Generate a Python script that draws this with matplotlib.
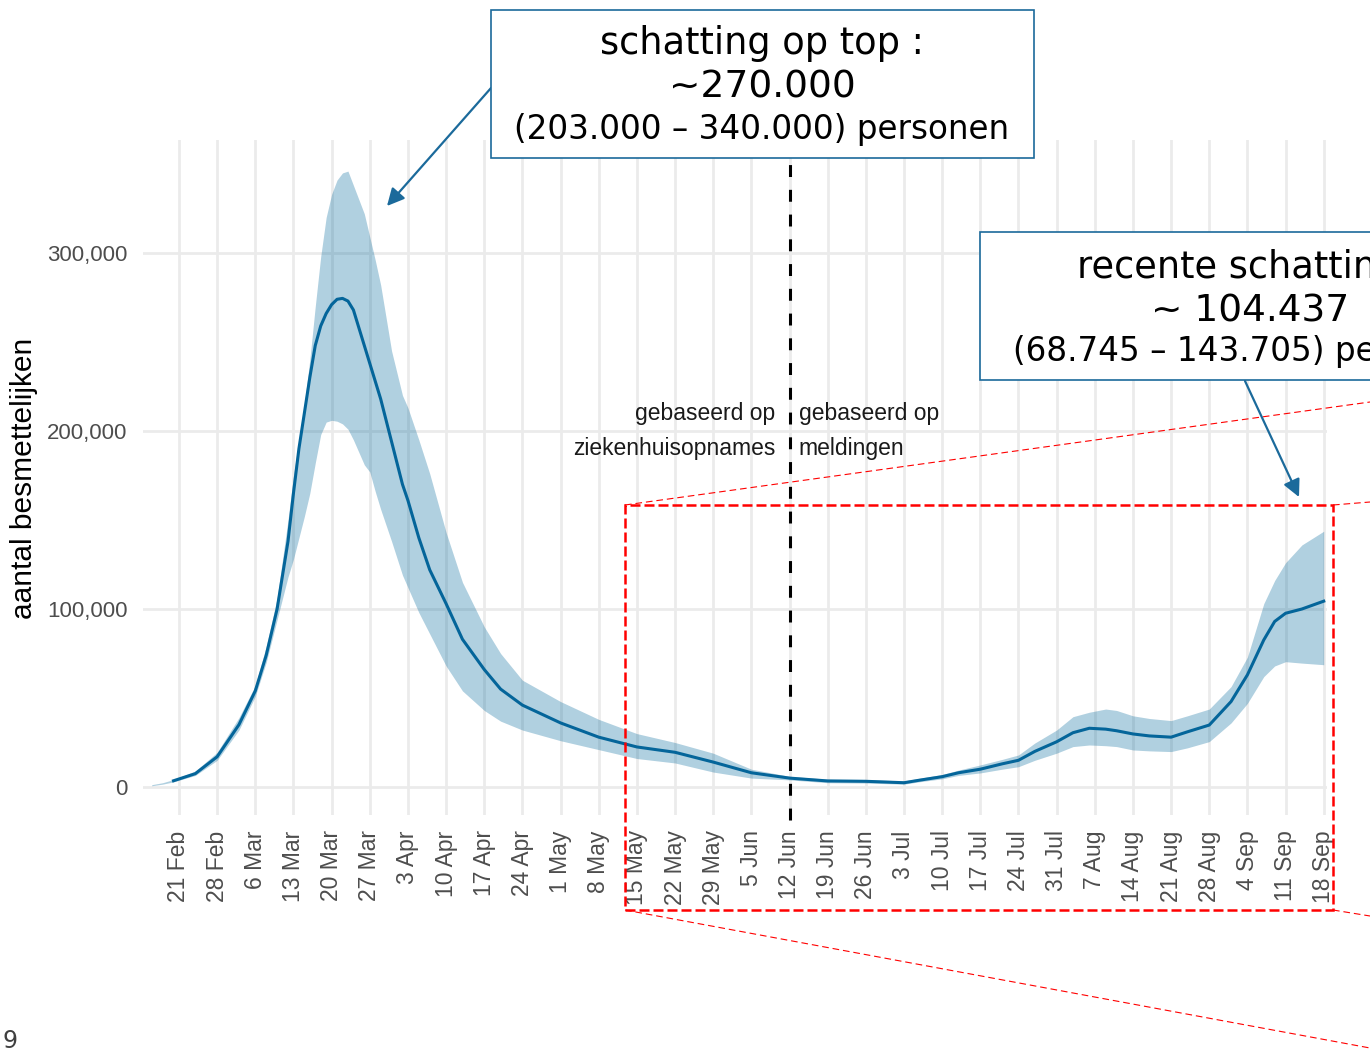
import numpy as np
import pandas as pd
import matplotlib
matplotlib.use("Agg")
import matplotlib.pyplot as plt
from matplotlib.patches import Rectangle, FancyArrowPatch
from matplotlib.lines import Line2D

plt.rcParams['font.family'] = ['Liberation Sans', 'DejaVu Sans']

W, H = 1370, 1054

# estimate of infectious people (thousands)
dates = ['16 Feb', '18 Feb', '20 Feb', '24 Feb', '28 Feb', '3 Mar', '6 Mar', '8 Mar',
         '10 Mar', '12 Mar', '13 Mar', '14 Mar', '15 Mar', '16 Mar', '17 Mar', '18 Mar',
         '19 Mar', '20 Mar', '21 Mar', '22 Mar', '23 Mar', '24 Mar', '25 Mar', '26 Mar',
         '27 Mar', '28 Mar', '29 Mar', '31 Mar', '2 Apr', '3 Apr', '5 Apr', '7 Apr',
         '10 Apr', '13 Apr', '17 Apr', '20 Apr', '24 Apr', '1 May', '8 May', '15 May',
         '22 May', '29 May', '5 Jun', '12 Jun', '19 Jun', '26 Jun', '3 Jul', '6 Jul',
         '10 Jul', '13 Jul', '17 Jul', '21 Jul', '24 Jul', '27 Jul', '31 Jul', '3 Aug',
         '6 Aug', '9 Aug', '11 Aug', '14 Aug', '17 Aug', '21 Aug', '24 Aug', '28 Aug',
         '1 Sep', '4 Sep', '7 Sep', '9 Sep', '11 Sep', '14 Sep', '18 Sep']
mid_k = [np.nan, np.nan, 3.5, 7.5, 17, 35, 54, 74,
         100, 138, 165, 190, 210, 230, 248, 259,
         266, 271, 274, 274.5, 273, 268, 258, 248,
         238, 228, 218, 194, 170, 161, 140, 122,
         103, 83, 66, 55, 46, 36, 28, 22.5,
         19.5, 14, 8, 5, 3.4, 3.2, 2.4, 3.9,
         5.8, 8, 10, 13, 15, 20, 25.4, 30.5,
         33, 32.5, 31.6, 29.8, 28.7, 28, 31, 34.8,
         48, 63, 82.6, 93, 97.6, 100, 104.4]
low_k = [0.7, 1.6, 2.9, 6.5, 15, 32, 51, 70,
         94, 118, 128, 140, 152, 165, 182, 198,
         205, 206, 205.5, 204, 201, 195, 188, 181,
         177, 166, 156, 138, 119, 112, 98, 86,
         68, 54, 43, 37, 32, 26, 21, 16,
         13.5, 8.4, 5, 4, 2.4, 2.2, 1.6, 3,
         4.6, 6.5, 7.9, 10, 11.4, 15, 19, 22.7,
         23.6, 23.2, 22.7, 20.8, 20.3, 19.9, 22, 25.5,
         36, 47, 62, 68, 70.4, 69.6, 68.7]
high_k = [1.3, 2.4, 4.2, 9, 19.5, 39, 57, 79,
          106, 150, 175, 195, 215, 240, 270, 298,
          320, 333, 341, 345, 346, 338, 330, 322,
          309, 296, 282, 245, 220, 213, 195, 176,
          143, 115, 90, 75, 60, 48, 38, 30,
          25, 19, 10, 6, 4.4, 4.2, 3.4, 5,
          7, 9.5, 12.4, 15.5, 18, 24.7, 32, 39.5,
          42, 43.8, 43, 40, 38.5, 37.3, 40, 43.8,
          56.4, 73, 103, 116, 126, 136, 143.7]

y_ticks = [0, 100000, 200000, 300000]
y_tick_labels = ['0', '100,000', '200,000', '300,000']

blue = '#04659a'
band = '#01689b'

x = pd.to_datetime([s + ' 2020' for s in dates], format='%d %b %Y')
mid = np.array(mid_k) * 1000
low = np.array(low_k) * 1000
high = np.array(high_k) * 1000


def fx(px):
    return px / W


def fy(py):
    return 1 - py / H


fig = plt.figure(figsize=(W / 100, H / 100), dpi=100)
ax = fig.add_axes([fx(143), fy(815), (1327 - 143) / W, (815 - 140) / H])

ax.fill_between(x, low, high, color=band, alpha=0.31, lw=0)
ax.plot(x, mid, color=blue, lw=2.2)

week_ticks = pd.date_range('2020-02-21', '2020-09-18', freq='7D')
ax.set_xticks(week_ticks)
ax.set_xticklabels([f"{t.day} {t.strftime('%b')}" for t in week_ticks], rotation=90)
ax.set_yticks(y_ticks)
ax.set_yticklabels(y_tick_labels)

start = pd.Timestamp('2020-02-21')
ax.set_xlim(start - pd.Timedelta(days=6.6), start + pd.Timedelta(days=210.6))
ax.set_ylim(-15730, 363480)

ax.grid(True, color='#ebebeb', lw=2.0)
ax.set_axisbelow(True)
for sp in ax.spines.values():
    sp.set_visible(False)
ax.tick_params(length=0, labelsize=16, labelcolor='#4d4d4d', pad=11)
ax.tick_params(axis='x', labelsize=16.5)

# switch from hospital admissions to reported cases
split = pd.Timestamp('2020-06-12')
ax.axvline(split, ymin=-0.0074, ymax=0.966, color='black', lw=2.2,
           ls=(0, (3.9, 4.2)), clip_on=False, zorder=5)
ax.text(split - pd.Timedelta(days=2.55), 209600, 'gebaseerd op', ha='right', va='center',
        fontsize=16.5, color='#1a1a1a')
ax.text(split - pd.Timedelta(days=2.55), 190400, 'ziekenhuisopnames', ha='right', va='center',
        fontsize=16.5, color='#1a1a1a')
ax.text(split + pd.Timedelta(days=1.65), 209600, 'gebaseerd op', ha='left', va='center',
        fontsize=16.5, color='#1a1a1a')
ax.text(split + pd.Timedelta(days=1.65), 190400, 'meldingen', ha='left', va='center',
        fontsize=16.5, color='#1a1a1a')

fig.text(fx(24), fy(478), 'aantal besmettelijken', rotation=90, ha='center', va='center',
         fontsize=21.5, color='black')
fig.text(fx(10), fy(1041), '9', ha='center', va='center', fontsize=17, color='#404040',
         family='DejaVu Sans')

# slide overlay: red zoom box and callout lines
red = '#ff0000'
fig.add_artist(Rectangle((fx(625), fy(910)), (1333 - 625) / W, (910 - 505) / H,
                         transform=fig.transFigure, fill=False, edgecolor=red,
                         lw=1.8, ls=(0, (4, 1.6)), zorder=6))
for (x0, y0, x1, y1) in [(625, 505, 1370, 402), (1333, 505, 1370, 502),
                         (625, 910, 1370, 1048), (1333, 910, 1370, 916)]:
    fig.add_artist(Line2D([fx(x0), fx(x1)], [fy(y0), fy(y1)], transform=fig.transFigure,
                          color=red, lw=0.8, ls=(0, (6, 3.5)), zorder=6))

# annotation boxes (the right one runs off the slide edge, as in the original)
box_col = '#1b6a9b'
fig.add_artist(FancyArrowPatch((fx(491), fy(88)), (fx(387), fy(206)), transform=fig.transFigure,
                               arrowstyle='-|>', mutation_scale=26, color=box_col, lw=1.6,
                               shrinkA=0, shrinkB=0, zorder=7))
fig.add_artist(FancyArrowPatch((fx(1245), fy(381)), (fx(1299), fy(497)), transform=fig.transFigure,
                               arrowstyle='-|>', mutation_scale=26, color=box_col, lw=1.6,
                               shrinkA=0, shrinkB=0, zorder=7))
fig.add_artist(Rectangle((fx(491), fy(158)), (1034 - 491) / W, (158 - 10) / H,
                         transform=fig.transFigure, facecolor='white', edgecolor=box_col,
                         lw=1.2, zorder=8))
fig.add_artist(Rectangle((fx(980), fy(380)), (1522 - 980) / W, (380 - 232) / H,
                         transform=fig.transFigure, facecolor='white', edgecolor=box_col,
                         lw=1.2, zorder=8))

box_font = dict(ha='center', va='center', family='DejaVu Sans', color='black', zorder=9)
fig.text(fx(762), fy(44), 'schatting op top :', fontsize=26.5, **box_font)
fig.text(fx(762), fy(87), '~270.000', fontsize=27, **box_font)
fig.text(fx(762), fy(130), '(203.000 \u2013 340.000) personen', fontsize=23.5, **box_font)
fig.text(fx(1250), fy(267), 'recente schatting :', fontsize=26.5, **box_font)
fig.text(fx(1250), fy(311), '~ 104.437', fontsize=27, **box_font)
fig.text(fx(1250), fy(352), '(68.745 \u2013 143.705) personen', fontsize=23.5, **box_font)

fig.savefig('out.png', dpi=100)
